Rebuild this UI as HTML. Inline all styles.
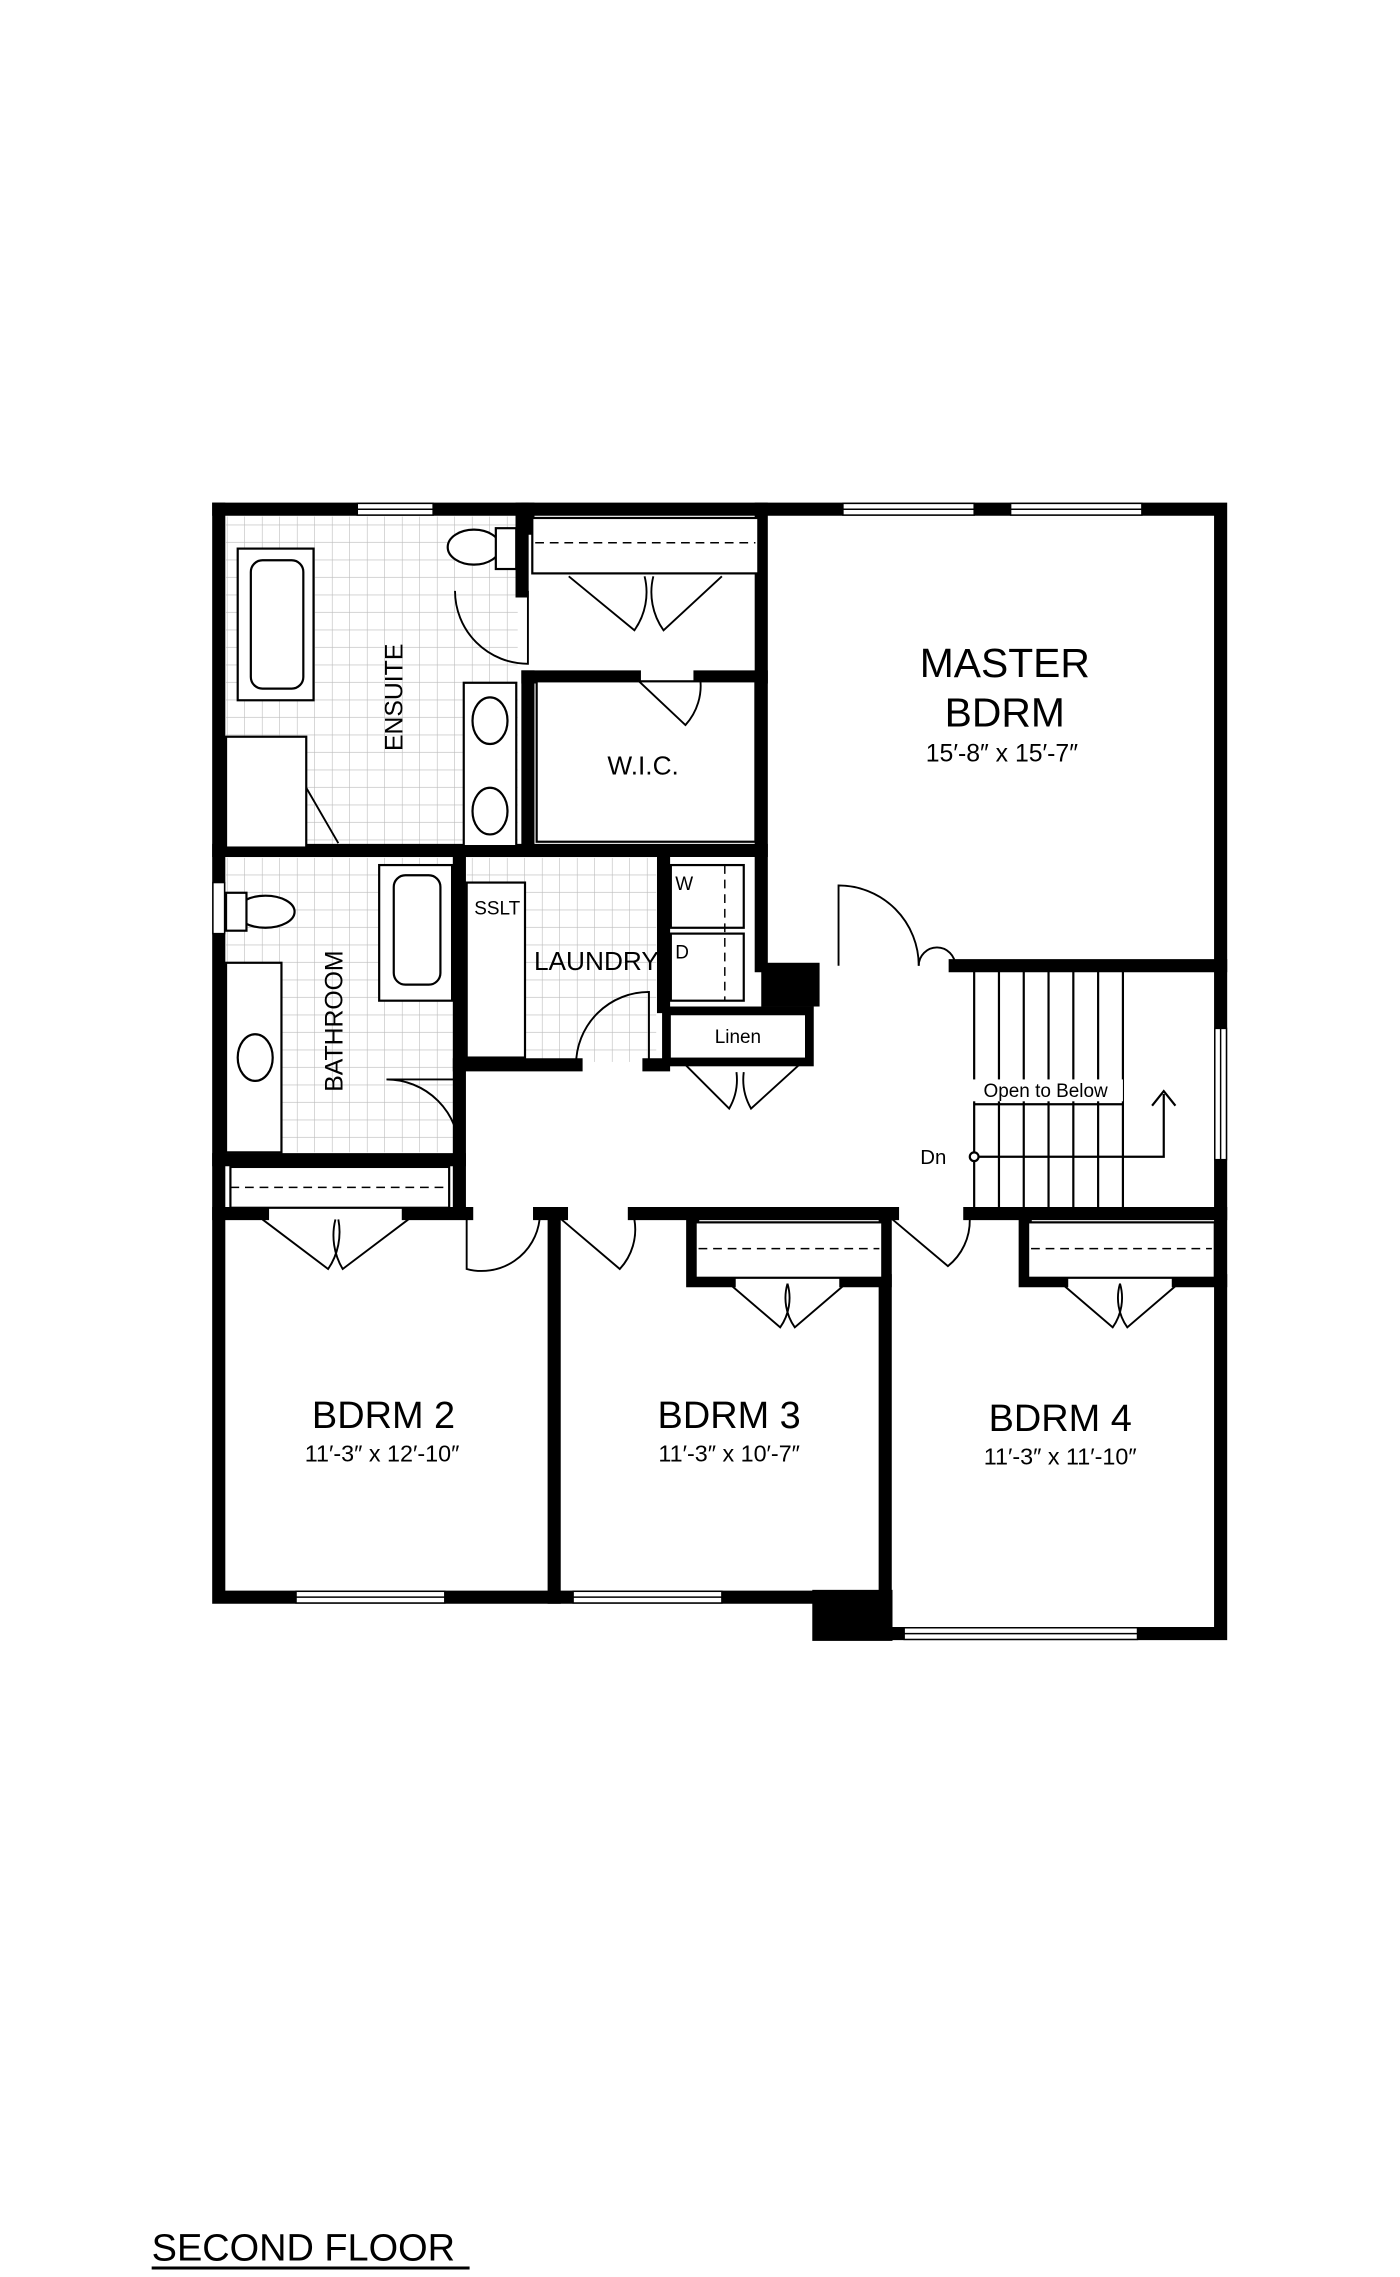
<!DOCTYPE html>
<html><head><meta charset="utf-8"><style>
html,body{margin:0;padding:0;background:#fff;}
svg{display:block;}
text{font-family:"Liberation Sans","DejaVu Sans",sans-serif;fill:#000;}
</style></head><body>
<svg width="1400" height="2277" viewBox="0 0 960 1561" xmlns="http://www.w3.org/2000/svg">
<defs>
<pattern id="tile" width="12" height="12" patternUnits="userSpaceOnUse">
<rect width="12" height="12" fill="#fff"/>
<path d="M12 0V12M0 12H12" stroke="#bbb" stroke-width="0.8"/>
</pattern>
</defs>
<rect x="155" y="354" width="200" height="228" fill="url(#tile)"/>
<rect x="155" y="588" width="158" height="202" fill="url(#tile)"/>
<rect x="320" y="588" width="130" height="140" fill="url(#tile)"/>

<g stroke="#000" stroke-width="9" fill="none" stroke-linecap="square">
<path d="M150 349H837V1120H612"/>
<path d="M150 349V1095H557"/>
<path d="M358 349V405"/>
<path d="M362 464V580"/>
<path d="M362 464H435M480 464H522"/>
<path d="M522 349V662"/>
<path d="M150 583H522"/>
<path d="M362 349V362"/>
<path d="M315 590V730H395M445 730H455"/>
<path d="M455 588V690"/>
<path d="M655 662H837"/>
<path d="M315 730V830"/>
<path d="M150 795H315"/>
<path d="M150 832H180M280 832H320M370 832H385M435 832H612M665 832H837"/>
<path d="M380 832V1095"/>
<path d="M607 832V1120"/>
<path d="M475 836V878H500M580 878H607"/>
<path d="M703 836V878H728M808 878H837"/>
</g>
<rect x="522" y="660" width="40" height="30" fill="#000"/>
<rect x="557" y="1090" width="55" height="35" fill="#000"/>
<g fill="#fff" stroke="#000" stroke-width="1">
<rect x="245" y="345" width="52" height="8"/>
<rect x="578" y="345" width="90" height="8"/>
<rect x="693" y="345" width="90" height="8"/>
<rect x="146" y="605" width="8" height="35"/>
<rect x="833" y="705" width="8" height="90"/>
<rect x="203" y="1091" width="102" height="8"/>
<rect x="393" y="1091" width="102" height="8"/>
<rect x="620" y="1116" width="160" height="8"/>
</g>
<g stroke="#000" stroke-width="1" fill="none">
<line x1="245" y1="349" x2="297" y2="349"/><line x1="578" y1="349" x2="668" y2="349"/>
<line x1="693" y1="349" x2="783" y2="349"/><line x1="203" y1="1095" x2="305" y2="1095"/>
<line x1="393" y1="1095" x2="495" y2="1095"/><line x1="620" y1="1120" x2="780" y2="1120"/>
<line x1="837" y1="705" x2="837" y2="795"/>
</g>
<g stroke="#000" stroke-width="1.5" fill="#fff">
<rect x="163" y="376" width="52" height="104"/>
<rect x="172" y="384" width="36" height="88" rx="8"/>
<rect x="155" y="505" width="55" height="76"/>
<rect x="318" y="468" width="36" height="112"/>
<ellipse cx="336" cy="494" rx="12" ry="16"/>
<ellipse cx="336" cy="556" rx="12" ry="16"/>
<ellipse cx="325" cy="375" rx="18" ry="12"/>
<rect x="340" y="362" width="14" height="28"/>
<rect x="260" y="593" width="50" height="93"/>
<rect x="270" y="600" width="32" height="75" rx="8"/>
<ellipse cx="182" cy="625" rx="20" ry="11"/>
<rect x="155" y="612" width="14" height="26"/>
<rect x="155" y="660" width="38" height="130"/>
<ellipse cx="175" cy="725" rx="12" ry="16"/>
<rect x="320" y="605" width="40" height="120"/>
<rect x="460" y="593" width="50" height="43"/>
<rect x="460" y="640" width="50" height="46"/>
<rect x="158" y="800" width="150" height="28"/>
<rect x="365" y="355" width="155" height="38"/>
<rect x="368" y="467" width="150" height="110"/>
<rect x="477" y="838" width="128" height="38"/>
<rect x="705" y="838" width="128" height="38"/>
</g>
<rect x="457" y="693" width="98" height="35" fill="#fff" stroke="#000" stroke-width="6"/>
<g stroke="#000" stroke-width="1" stroke-dasharray="6,4">
<line x1="367" y1="372" x2="518" y2="372"/>
<line x1="158" y1="814" x2="308" y2="814"/>
<line x1="479" y1="856" x2="603" y2="856"/>
<line x1="707" y1="856" x2="831" y2="856"/>
<line x1="497" y1="593" x2="497" y2="686"/>
</g>
<g stroke="#000" stroke-width="1.5" fill="none">
<path d="M668 665V832"/>
<path d="M685 665V832M702 665V832M719 665V832M736 665V832M753 665V832M770 665V832"/>
<path d="M668 757H770"/>
<path d="M668 793H798V750M790 758L798 748L806 758"/>
<circle cx="668" cy="793" r="3" fill="#fff"/>
</g>
<g stroke="#000" stroke-width="1.3" fill="none">
<path d="M362 405L362 455A50 50 0 0 1 312 405"/>
<path d="M390 395L435 432A45 45 0 0 0 442 395M495 395L455 432A45 45 0 0 1 448 395"/>
<path d="M435 464L470 497A40 40 0 0 0 480 464"/>
<path d="M575 662V607A55 55 0 0 1 630 662"/>
<path d="M630 662A12 12 0 0 1 655 662"/>
<path d="M445 730V680A50 50 0 0 0 395 730"/>
<path d="M315 740H265A50 50 0 0 1 315 790"/>
<path d="M470 730L500 760A40 40 0 0 0 505 735M548 730L515 760A40 40 0 0 1 510 735"/>
<path d="M180 836L225 870A45 45 0 0 0 232 836M280 836L235 870A45 45 0 0 1 230 836"/>
<path d="M320 836V870A40 40 0 0 0 370 836"/>
<path d="M385 836L425 870A40 40 0 0 0 435 836"/>
<path d="M500 880L535 910A35 35 0 0 0 540 880M580 880L545 910A35 35 0 0 1 540 880"/>
<path d="M612 836L650 868A40 40 0 0 0 665 836"/>
<path d="M728 880L763 910A35 35 0 0 0 768 880M808 880L773 910A35 35 0 0 1 768 880"/>
<path d="M210 540L232 578"/>
</g>
<text x="689" y="464" font-size="28" text-anchor="middle">MASTER</text>
<text x="689" y="498" font-size="28" text-anchor="middle">BDRM</text>
<text x="687" y="522" font-size="17" text-anchor="middle">15′-8″ x 15′-7″</text>
<text x="441" y="531" font-size="18" text-anchor="middle">W.I.C.</text>
<text transform="translate(276,478) rotate(-90)" font-size="17" text-anchor="middle">ENSUITE</text>
<text transform="translate(235,700) rotate(-90)" font-size="17" text-anchor="middle">BATHROOM</text>
<text x="409" y="665" font-size="18" text-anchor="middle">LAUNDRY</text>
<text x="341" y="627" font-size="13" text-anchor="middle">SSLT</text>
<text x="463" y="610" font-size="13">W</text>
<text x="463" y="657" font-size="13">D</text>
<text x="506" y="715" font-size="13" text-anchor="middle">Linen</text>
<rect x="665" y="740" width="105" height="15" fill="#fff"/>
<text x="717" y="752" font-size="13" text-anchor="middle">Open to Below</text>
<text x="640" y="798" font-size="14" text-anchor="middle">Dn</text>
<text x="263" y="979" font-size="26" text-anchor="middle">BDRM 2</text>
<text x="262" y="1002" font-size="16" text-anchor="middle">11′-3″ x 12′-10″</text>
<text x="500" y="979" font-size="26" text-anchor="middle">BDRM 3</text>
<text x="500" y="1002" font-size="16" text-anchor="middle">11′-3″ x 10′-7″</text>
<text x="727" y="981" font-size="26" text-anchor="middle">BDRM 4</text>
<text x="727" y="1004" font-size="16" text-anchor="middle">11′-3″ x 11′-10″</text>
<text x="104" y="1550" font-size="26">SECOND FLOOR</text>
<line x1="104" y1="1555" x2="322" y2="1555" stroke="#000" stroke-width="2"/>
</svg>
</body></html>
